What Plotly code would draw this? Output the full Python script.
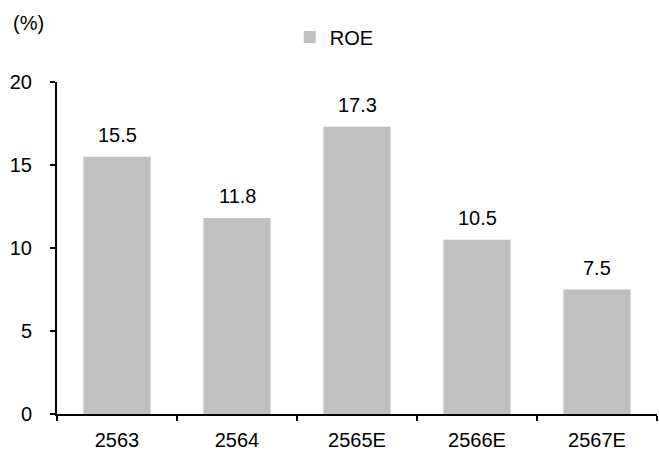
import plotly.graph_objects as go

categories = ["2563", "2564", "2565E", "2566E", "2567E"]
roe = [15.5, 11.8, 17.3, 10.5, 7.5]
labels = ["15.5", "11.8", "17.3", "10.5", "7.5"]

FONT = "Liberation Sans, Arial, sans-serif"
FS = 20

fig = go.Figure()
fig.add_trace(go.Bar(
    x=categories, y=roe, name="ROE",
    marker=dict(color="#C0C0C0", line=dict(width=0)),
    width=0.56,
))

for i, (v, t) in enumerate(zip(roe, labels)):
    fig.add_annotation(x=i, y=v, text=t, showarrow=False,
                       yanchor="bottom", yshift=9,
                       font=dict(size=FS, color="#000000", family=FONT))

fig.add_annotation(xref="paper", yref="paper", x=-0.077, y=1.178,
                   xanchor="left", yanchor="middle", text="(%)", showarrow=False,
                   font=dict(size=FS, color="#000000", family=FONT))

fig.update_layout(
    width=659, height=455,
    margin=dict(l=57, r=2, t=82, b=41),
    paper_bgcolor="white", plot_bgcolor="white",
    font=dict(family=FONT, size=FS, color="#000000"),
    showlegend=True,
    legend=dict(orientation="h", x=0.388, y=1.1355, xanchor="left", yanchor="middle",
                font=dict(size=FS, family=FONT), bgcolor="rgba(0,0,0,0)"),
    bargap=0.44,
)

fig.update_xaxes(
    type="category", range=[-0.5, 4.5], showline=True, linecolor="#000000", linewidth=2,
    ticks="outside", tickson="boundaries", ticklen=5, tickwidth=2, tickcolor="#000000",
    showgrid=False, zeroline=False, ticklabelstandoff=7, tickangle=0,
    tickfont=dict(size=FS, family=FONT),
)
fig.update_yaxes(
    range=[0, 20], tickvals=[0, 5, 10, 15, 20], showline=True, linecolor="#000000",
    linewidth=2, ticks="outside", ticklen=5, tickwidth=2, tickcolor="#000000",
    showgrid=False, zeroline=False, ticklabelstandoff=14,
    tickfont=dict(size=FS, family=FONT),
)

fig.write_html("out.html")
